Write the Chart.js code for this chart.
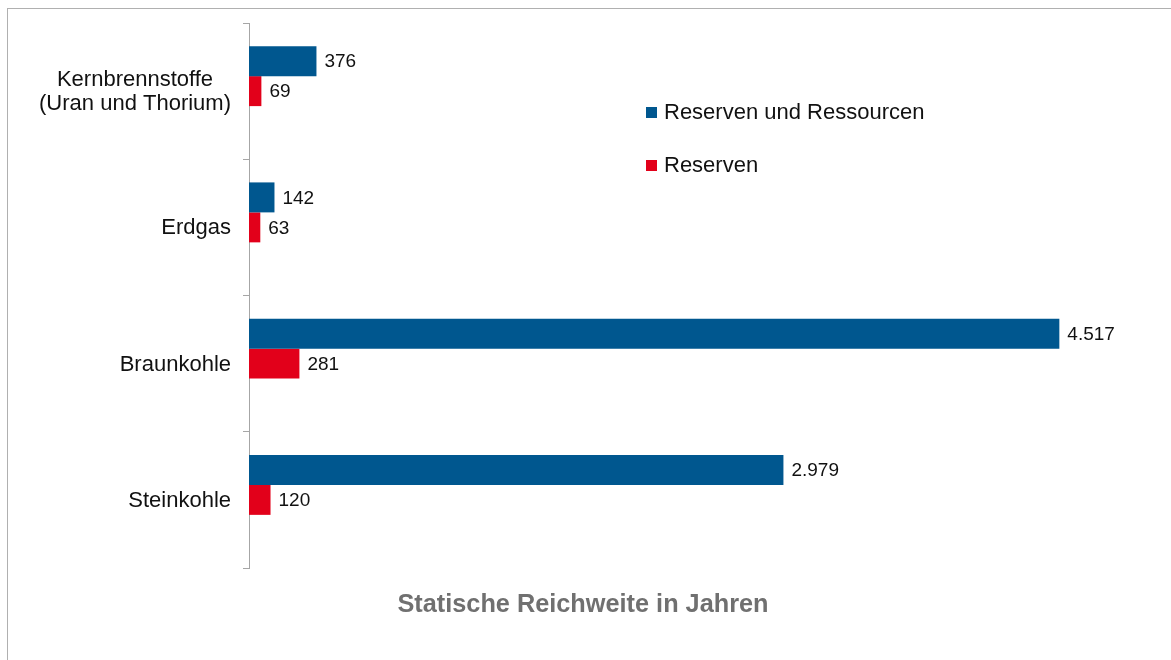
<!DOCTYPE html>
<html>
<head>
<meta charset="utf-8">
<script src="https://cdn.jsdelivr.net/npm/chart.js@4/dist/chart.umd.min.js"></script>
<style>
    body { margin: 0; background: #fff; font-family: "Liberation Sans", Arial, sans-serif; }
    #wrap { position: relative; width: 1171px; height: 660px; overflow: hidden; }
    #frame { position: absolute; left: 7px; top: 8px; width: 1300px; height: 800px; border-top: 1px solid #b0b0b0; border-left: 1px solid #b0b0b0; }
    #reichweite { position: absolute; left: 0; top: 0; }
    .legend-item { position: absolute; left: 646px; font-size: 22px; color: #111; line-height: 26px; white-space: nowrap; }
    .legend-item span { display: inline-block; width: 11px; height: 11px; margin-right: 7px; vertical-align: 1px; }
    #achsentitel { position: absolute; left: 0; width: 1166px; top: 588px; text-align: center; font-size: 25.3px; line-height: 30px; font-weight: bold; color: #707070; }
</style>
</head>
<body>
<div id="wrap">
    <div id="frame"></div>
    <canvas id="reichweite" width="1171" height="660"></canvas>
    <div id="legend"></div>
    <div id="achsentitel"></div>
</div>
<script>
const categories = [["Kernbrennstoffe", "(Uran und Thorium)"], "Erdgas", "Braunkohle", "Steinkohle"]
const seriesNames = ["Reserven und Ressourcen", "Reserven"]
const reservenUndRessourcen = [376, 142, 4517, 2979]
const reserven = [69, 63, 281, 120]
// Excel leaves room for a third (empty) series, which pushes the bars up
const leereReihe = [null, null, null, null]
const seriesColors = ["#00578f", "#e2001a"]
const axisTitle = "Statische Reichweite in Jahren"

const chartCanvas = document.getElementById("reichweite")
const labelFont = "22px 'Liberation Sans', Arial, sans-serif"

function formatDe(v) {
    return String(v).replace(/\B(?=(\d{3})+(?!\d))/g, ".")
}

function buildLegend(parent) {
    const tops = [99, 152]
    seriesNames.forEach((name, i) => {
        const div = document.createElement("div")
        div.classList.add("legend-item")
        div.style.top = tops[i] + "px"
        const box = document.createElement("span")
        box.style.background = seriesColors[i]
        div.appendChild(box)
        div.appendChild(document.createTextNode(name))
        parent.appendChild(div)
    })
}

const valueLabels = {
    id: "valueLabels",
    afterDatasetsDraw(chart) {
        const ctx = chart.ctx
        ctx.save()
        ctx.font = "19px 'Liberation Sans', Arial, sans-serif"
        ctx.fillStyle = "#111"
        ctx.textBaseline = "middle"
        ctx.textAlign = "left"
        for (let d = 0; d < 2; d++) {
            const meta = chart.getDatasetMeta(d)
            meta.data.forEach((bar, i) => {
                ctx.fillText(formatDe(chart.data.datasets[d].data[i]), bar.x + 8, bar.y + 1)
            })
        }
        ctx.restore()
    }
}

// category labels: block right aligned, lines centred on each other like Excel does
const categoryLabels = {
    id: "categoryLabels",
    afterDraw(chart) {
        const ctx = chart.ctx
        const yScale = chart.scales.y
        const right = chart.chartArea.left - 18
        ctx.save()
        ctx.font = labelFont
        ctx.fillStyle = "#111"
        ctx.textBaseline = "middle"
        ctx.textAlign = "center"
        categories.forEach((cat, i) => {
            const lines = Array.isArray(cat) ? cat : [cat]
            const w = Math.max(...lines.map(l => ctx.measureText(l).width))
            const cy = yScale.getPixelForValue(i)
            lines.forEach((line, k) => {
                ctx.fillText(line, right - w / 2, cy + (k - (lines.length - 1) / 2) * 24 + 1)
            })
        })
        ctx.restore()
    }
}

function createBarChart(canvas) {
    const data = {
        labels: categories,
        datasets: [
            { label: seriesNames[0], data: reservenUndRessourcen, backgroundColor: seriesColors[0] },
            { label: seriesNames[1], data: reserven, backgroundColor: seriesColors[1] },
            { label: "", data: leereReihe, backgroundColor: "rgba(0,0,0,0)" }
        ]
    }

    const config = {
        type: "bar",
        data: data,
        options: {
            indexAxis: "y",
            responsive: false,
            animation: false,
            categoryPercentage: 0.66,
            barPercentage: 1,
            layout: { padding: { top: 23, right: 25, bottom: 92, left: 0 } },
            scales: {
                x: { display: false, min: 0, max: 5000 },
                y: {
                    grid: { drawOnChartArea: false, drawTicks: true, tickLength: 6, color: "#a6a6a6", offset: true },
                    border: { color: "#a6a6a6", width: 1 },
                    ticks: { display: false },
                    afterFit: (scale) => { scale.width = 249 }
                }
            },
            plugins: {
                legend: { display: false },
                tooltip: { enabled: false }
            }
        },
        plugins: [valueLabels, categoryLabels]
    }

    return new Chart(canvas, config)
}

createBarChart(chartCanvas)
buildLegend(document.getElementById("legend"))
document.getElementById("achsentitel").textContent = axisTitle
</script>
</body>
</html>
